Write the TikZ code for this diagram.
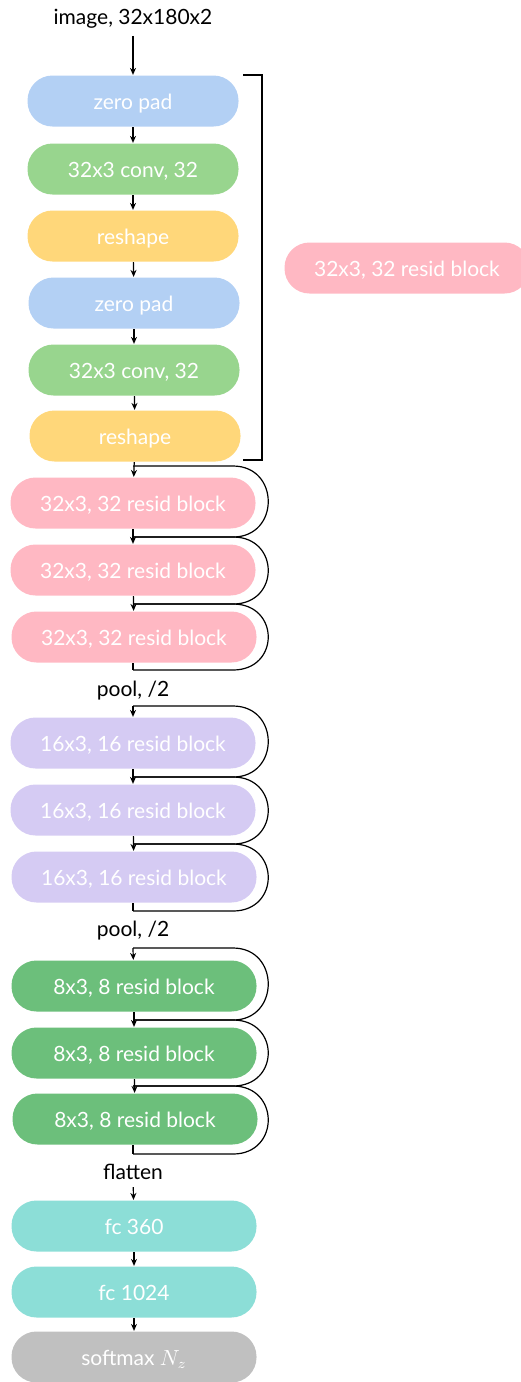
\documentclass[tikz,border=0pt]{standalone}
\usepackage{fontspec}
\setmainfont{Lato}
\usetikzlibrary{arrows.meta}

\definecolor{padblue}{HTML}{B3D0F4}
\definecolor{convgreen}{HTML}{98D58E}
\definecolor{shapeyellow}{HTML}{FFD77A}
\definecolor{residpink}{HTML}{FFB8C3}
\definecolor{residlilac}{HTML}{D5CBF3}
\definecolor{residgreen}{HTML}{6CBF7B}
\definecolor{fcteal}{HTML}{8CDED7}
\definecolor{outgray}{HTML}{C0C0C0}

\tikzset{
    layer/.style={rectangle, rounded corners=12.5pt, minimum width=105.5pt,
        minimum height=25.5pt, text=white, text height=10pt, text depth=2pt,
        font=\fontsize{10.5}{12}\selectfont},
    wide/.style={layer, minimum width=122.5pt},
    caption/.style={font=\fontsize{10.5}{12}\selectfont},
    skip/.style={to path={-- ++(50pt,0) .. controls +(23.5pt,0) and ([xshift=73.5pt]\tikztotarget)
        .. ([xshift=50pt]\tikztotarget) -- (\tikztotarget)}}
}

\begin{document}
\begin{tikzpicture}[x=0.5pt, y=-0.5pt, >={Stealth[length=3.5pt, width=3pt]}, line width=0.6pt]

    \useasboundingbox (0,0) rectangle (520,1382);

    % --- 1. Input ---
    \node [caption] (image) at (133,19) {image, 32x180x2};

    % --- 2. Front end (pad / conv / reshape, twice) ---
    \node [layer, fill=padblue]     (zeroA)    at (133,101) {zero pad};
    \node [layer, fill=convgreen]   (convA)    at (133,169) {32x3 conv, 32};
    \node [layer, fill=shapeyellow] (reshapeA) at (133,236) {reshape};
    \node [layer, fill=padblue]     (zeroB)    at (134,303) {zero pad};
    \node [layer, fill=convgreen]   (convB)    at (134,370) {32x3 conv, 32};
    \node [layer, fill=shapeyellow] (reshapeB) at (135,436) {reshape};

    \draw [->] (image) -- (zeroA);
    \draw [->] (zeroA) -- (convA);
    \draw [->] (convA) -- (reshapeA);
    \draw [->] (reshapeA) -- (zeroB);
    \draw [->] (zeroB) -- (convB);
    \draw [->] (convB) -- (reshapeB);

    % bracket round the front end, and what it stands for
    \draw (243,75) -- (262,75) -- (262,460) -- (243,460);
    \node [wide, fill=residpink] (summary) at (407,268) {32x3, 32 resid block};

    % --- 3. Residual stacks ---
    \node [wide, fill=residpink]  (residA1) at (133,503) {32x3, 32 resid block};
    \node [wide, fill=residpink]  (residA2) at (133,570) {32x3, 32 resid block};
    \node [wide, fill=residpink]  (residA3) at (134,637) {32x3, 32 resid block};
    \node [caption] (poolA) at (133,691) {pool, /2};

    \node [wide, fill=residlilac] (residB1) at (133,743) {16x3, 16 resid block};
    \node [wide, fill=residlilac] (residB2) at (133,810) {16x3, 16 resid block};
    \node [wide, fill=residlilac] (residB3) at (134,877) {16x3, 16 resid block};
    \node [caption] (poolB) at (133,931) {pool, /2};

    \node [wide, fill=residgreen] (residC1) at (134,986) {8x3, 8 resid block};
    \node [wide, fill=residgreen] (residC2) at (134,1053) {8x3, 8 resid block};
    \node [wide, fill=residgreen] (residC3) at (135,1119) {8x3, 8 resid block};
    \node [caption] (flatten) at (133,1172) {flatten};

    % skip levels (top of each block, between blocks, below the last)
    \foreach \g/\ya/\yb/\yc/\yd in {A/466/537/604/670, B/706/777/844/911, C/948/1020/1086/1154} {
        \coordinate (s\g0) at (133,\ya);
        \coordinate (s\g1) at (133,\yb);
        \coordinate (s\g2) at (133,\yc);
        \coordinate (s\g3) at (133,\yd);
        \draw (s\g0) to [skip] (s\g1);
        \draw (s\g1) to [skip] (s\g2);
        \draw (s\g2) to [skip] (s\g3);
        \draw [->] (resid\g1) -- (resid\g2);
        \draw [->] (resid\g2) -- (resid\g3);
        \draw (resid\g3.south -| s\g3) -- (s\g3);
    }
    \draw [->] (reshapeB) -- (residA1);
    \draw [->] (sB0) -- (residB1);
    \draw [->] (sC0) -- (residC1);

    % --- 4. Head ---
    \node [wide, fill=fcteal]  (fcA)     at (134,1226) {fc 360};
    \node [wide, fill=fcteal]  (fcB)     at (134,1292) {fc 1024};
    \node [wide, fill=outgray] (softmax) at (134,1357) {softmax $N_z$};

    \draw [->] (flatten) -- (fcA);
    \draw [->] (fcA) -- (fcB);
    \draw [->] (fcB) -- (softmax);

\end{tikzpicture}
\end{document}
